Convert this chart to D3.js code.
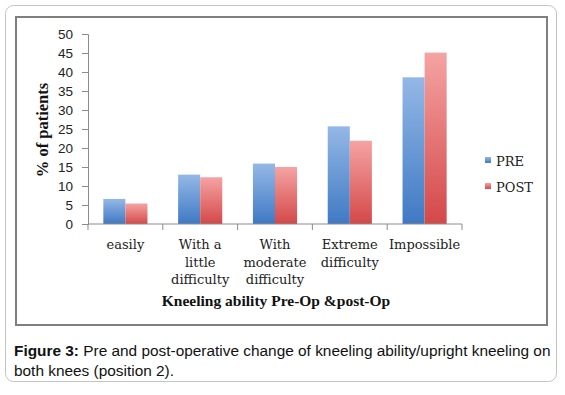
<!DOCTYPE html>
<html>
<head>
<meta charset="utf-8">
<script src="https://d3js.org/d3.v7.min.js"></script>
<style>
  body { margin: 0; background: #fff; }
  svg { display: block; }
</style>
</head>
<body>
<svg width="565" height="395"></svg>
<script>
// categories on the x axis (lines of each label)
var categories = ['easily', 'With a little difficulty', 'With moderate difficulty', 'Extreme difficulty', 'Impossible'];
var categoryLines = [['easily'], ['With a', 'little', 'difficulty'], ['With', 'moderate', 'difficulty'], ['Extreme', 'difficulty'], ['Impossible']];
var series = ['PRE', 'POST'];
var preValues = [6.6, 13.0, 15.9, 25.7, 38.6];
var postValues = [5.4, 12.3, 15.0, 21.9, 45.1];
var yTicks = [0, 5, 10, 15, 20, 25, 30, 35, 40, 45, 50];

var svg = d3.select('svg');

// frame positions
var plot = { l: 88, r: 462, t: 34, b: 224 };

// outer rounded box and inner figure box
svg.append('rect')
    .attr('x', 5.5).attr('y', 5.5)
    .attr('width', 551).attr('height', 376)
    .attr('rx', 8)
    .attr('fill', '#fff')
    .attr('stroke', '#c4c4c4');

svg.append('rect')
    .attr('x', 16).attr('y', 17)
    .attr('width', 531).attr('height', 308)
    .attr('fill', '#fff')
    .attr('stroke', '#7f7f7f')
    .attr('stroke-width', 2);

// gradients for the bars
var defs = svg.append('defs');
var colors = { PRE: ['#94b8e6', '#3f79c4'], POST: ['#f5a3a3', '#d44848'] };
series.forEach(function(s) {
    var g = defs.append('linearGradient')
        .attr('id', 'grad' + s)
        .attr('x1', 0).attr('y1', 0).attr('x2', 0).attr('y2', 1);
    g.append('stop').attr('offset', '0%').attr('stop-color', colors[s][0]);
    g.append('stop').attr('offset', '100%').attr('stop-color', colors[s][1]);
});

// scales
var xScale = d3.scaleBand()
    .domain(categories)
    .range([plot.l, plot.r]);

var bw = xScale.bandwidth();
var xInner = d3.scaleBand()
    .domain(series)
    .range([bw * 0.205, bw * 0.795]);

var yScale = d3.scaleLinear()
    .domain([0, 50])
    .range([plot.b, plot.t]);

// y axis
var yAxis = svg.append('g')
    .attr('transform', 'translate(' + plot.l + ',0)')
    .call(d3.axisLeft(yScale).tickValues(yTicks).tickSize(6).tickPadding(9));
yAxis.select('.domain').attr('stroke', '#8c8c8c');
yAxis.selectAll('.tick line').attr('stroke', '#8c8c8c');
yAxis.selectAll('text')
    .attr('fill', '#222')
    .style('font-family', '"Liberation Sans", Arial, sans-serif')
    .style('font-size', '13.5px');

// bars
var rows = categories.map(function(c, i) {
    return { category: c, PRE: preValues[i], POST: postValues[i] };
});

var groups = svg.selectAll('.group')
    .data(rows)
    .enter()
    .append('g')
    .attr('class', 'group')
    .attr('transform', function(d) { return 'translate(' + xScale(d.category) + ',0)'; });

groups.selectAll('rect')
    .data(function(d) { return series.map(function(s) { return { key: s, value: d[s] }; }); })
    .enter()
    .append('rect')
    .attr('x', function(d) { return xInner(d.key); })
    .attr('y', function(d) { return yScale(d.value); })
    .attr('width', xInner.bandwidth())
    .attr('height', function(d) { return plot.b - yScale(d.value); })
    .attr('fill', function(d) { return 'url(#grad' + d.key + ')'; });

// x axis
var xAxis = svg.append('g')
    .attr('transform', 'translate(0,' + plot.b + ')');
xAxis.append('line')
    .attr('x1', plot.l).attr('x2', plot.r)
    .attr('stroke', '#8c8c8c');
var edges = categories.map(function(c) { return xScale(c); }).concat([plot.r]);
xAxis.selectAll('.xtick')
    .data(edges)
    .enter()
    .append('line')
    .attr('x1', function(d) { return d; })
    .attr('x2', function(d) { return d; })
    .attr('y1', 0).attr('y2', 6)
    .attr('stroke', '#8c8c8c');

var labels = xAxis.selectAll('.xlabel')
    .data(categories)
    .enter()
    .append('text')
    .attr('text-anchor', 'middle')
    .attr('fill', '#222')
    .style('font-family', '"DejaVu Serif", serif')
    .style('font-size', '13px');
labels.each(function(d, i) {
    var t = d3.select(this);
    categoryLines[i].forEach(function(line, j) {
        t.append('tspan')
            .attr('x', xScale(d) + bw / 2)
            .attr('y', 25 + j * 17.5)
            .text(line);
    });
});

// axis titles
svg.append('text')
    .attr('x', 276).attr('y', 306)
    .attr('text-anchor', 'middle')
    .attr('fill', '#111')
    .style('font-family', '"Liberation Serif", serif')
    .style('font-weight', 'bold')
    .style('font-size', '15.5px')
    .text('Kneeling ability Pre-Op &post-Op');

svg.append('text')
    .attr('transform', 'translate(48,130) rotate(-90)')
    .attr('text-anchor', 'middle')
    .attr('fill', '#111')
    .style('font-family', '"Liberation Serif", serif')
    .style('font-weight', 'bold')
    .style('font-size', '16.5px')
    .text('% of patients');

// legend
var legend = svg.selectAll('.legend')
    .data(series)
    .enter()
    .append('g')
    .attr('transform', function(d, i) { return 'translate(485,' + (157 + i * 26) + ')'; });
legend.append('rect')
    .attr('width', 6).attr('height', 6)
    .attr('fill', function(d) { return 'url(#grad' + d + ')'; });
legend.append('text')
    .attr('x', 11).attr('y', 9)
    .attr('fill', '#222')
    .style('font-family', '"DejaVu Serif", serif')
    .style('font-size', '13px')
    .text(function(d) { return d; });

// caption
var caption = svg.append('text')
    .attr('fill', '#111')
    .style('font-family', '"Liberation Sans", Arial, sans-serif')
    .style('font-size', '15.4px');
var c1 = caption.append('tspan').attr('x', 14).attr('y', 356);
c1.append('tspan').style('font-weight', 'bold').text('Figure 3:');
c1.append('tspan').text(' Pre and post-operative change of kneeling ability/upright kneeling on');
caption.append('tspan').attr('x', 14).attr('y', 376).text('both knees (position 2).');
</script>
</body>
</html>
